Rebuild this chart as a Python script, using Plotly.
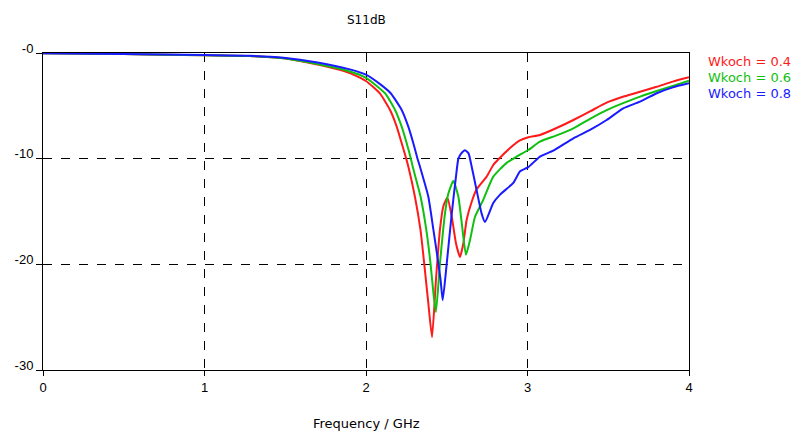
import plotly.graph_objects as go

# ---- data ----
freq_04 = [0.0, 0.5, 1.0, 1.28, 1.49, 1.70, 1.9, 2.0, 2.087, 2.149, 2.19, 2.221, 2.248, 2.262,
           2.303, 2.337, 2.361, 2.386, 2.409, 2.433, 2.458, 2.479, 2.504, 2.531, 2.557, 2.582,
           2.603, 2.623, 2.654, 2.685, 2.747, 2.788, 2.82, 2.892, 2.95, 3.005, 3.077, 3.18,
           3.284, 3.39, 3.49, 3.6, 3.697, 3.8, 3.9, 4.0]
s11_04 = [-0.02, -0.1, -0.22, -0.28, -0.5, -1.1, -1.9, -2.65, -3.85, -5.4, -6.97, -8.54, -9.95, -10.75,
          -13.6, -16.7, -20.0, -23.7, -26.9, -21.5, -16.7, -14.5, -13.7, -15.5, -18.0, -19.3,
          -18.0, -15.8, -14.1, -12.9, -11.7, -10.6, -10.06, -9.0, -8.3, -7.98, -7.76, -7.1,
          -6.34, -5.5, -4.7, -4.1, -3.66, -3.2, -2.71, -2.3]

freq_06 = [0.0, 0.5, 1.0, 1.28, 1.49, 1.70, 1.9, 2.0, 2.118, 2.18, 2.221, 2.252, 2.277, 2.289,
           2.338, 2.373, 2.40, 2.418, 2.433, 2.458, 2.489, 2.51, 2.541, 2.572, 2.593, 2.619,
           2.644, 2.675, 2.726, 2.788, 2.871, 2.933, 3.005, 3.077, 3.18, 3.284, 3.39, 3.49,
           3.6, 3.697, 3.8, 3.9, 4.0]
s11_06 = [-0.02, -0.1, -0.22, -0.28, -0.5, -1.05, -1.75, -2.35, -3.81, -5.39, -6.97, -8.54, -9.95, -10.75,
          -13.6, -16.7, -20.0, -22.8, -24.5, -19.9, -15.2, -13.3, -12.1, -13.6, -16.1, -19.1,
          -17.7, -15.5, -13.9, -11.7, -10.4, -9.8, -9.18, -8.39, -7.8, -7.13, -6.2, -5.4,
          -4.7, -4.13, -3.6, -3.12, -2.62]

freq_08 = [0.0, 0.5, 1.0, 1.28, 1.49, 1.70, 1.9, 2.0, 2.087, 2.153, 2.221, 2.262, 2.293, 2.318,
           2.334, 2.386, 2.417, 2.448, 2.462, 2.475, 2.50, 2.531, 2.557, 2.572, 2.59, 2.613,
           2.635, 2.644, 2.685, 2.716, 2.737, 2.788, 2.83, 2.912, 2.954, 3.005, 3.077, 3.16,
           3.284, 3.387, 3.49, 3.593, 3.697, 3.8, 3.9, 4.0]
s11_08 = [-0.02, -0.1, -0.2, -0.26, -0.45, -0.9, -1.55, -2.05, -2.95, -3.81, -5.39, -6.97, -8.54, -9.95,
          -10.75, -13.6, -16.7, -19.9, -21.5, -23.4, -19.9, -15.2, -11.7, -10.0, -9.5, -9.2,
          -9.5, -10.0, -13.0, -15.2, -16.0, -14.2, -13.4, -12.3, -11.2, -10.8, -9.8, -9.24,
          -8.07, -7.28, -6.34, -5.23, -4.6, -3.81, -3.25, -2.87]

series_names = ["Wkoch = 0.4", "Wkoch = 0.6", "Wkoch = 0.8"]
series_colors = ["#ff1a1a", "#10c010", "#1a1aff"]
x_ticks = [0, 1, 2, 3, 4]
y_ticks = [0, -10, -20, -30]
y_tick_labels = ["-0", "-10", "-20", "-30"]
title_text = "S11dB"
x_title = "Frequency / GHz"

fig = go.Figure()
for fx, fy, name, col in zip([freq_04, freq_06, freq_08], [s11_04, s11_06, s11_08],
                             series_names, series_colors):
    fig.add_trace(go.Scatter(x=fx, y=fy, mode="lines", name=name,
                             line=dict(color=col, width=2, shape="spline", smoothing=0.5),
                             showlegend=False))

tick_font = dict(family="Liberation Sans, Arial, sans-serif", size=13, color="black")
fig.update_layout(
    width=791, height=432,
    margin=dict(l=43, r=102, t=53, b=62, autoexpand=False),
    paper_bgcolor="white", plot_bgcolor="white",
    font=dict(family="DejaVu Sans, sans-serif", size=12, color="black"),
)
fig.update_xaxes(range=[0, 4], tickvals=x_ticks, ticktext=[str(v) for v in x_ticks],
                 showgrid=True, gridcolor="black", griddash="dash", gridwidth=1,
                 showline=True, linecolor="black", linewidth=1, mirror=True,
                 ticks="outside", ticklen=5, tickcolor="black", tickfont=tick_font,
                 zeroline=False)
fig.update_yaxes(range=[-30, 0], tickvals=y_ticks, ticktext=y_tick_labels,
                 showgrid=True, gridcolor="black", griddash="dash", gridwidth=1,
                 showline=True, linecolor="black", linewidth=1, mirror=True,
                 ticks="outside", ticklen=6, tickcolor="black", tickfont=tick_font,
                 zeroline=False, ticklabelshift=-5)

# title
fig.add_annotation(text=title_text, xref="paper", yref="paper", x=0.5, y=(370 - 20) / 317,
                   showarrow=False, font=dict(size=12), xanchor="center", yanchor="middle")
# x-axis title
fig.add_annotation(text=x_title, xref="paper", yref="paper", x=0.5, y=(370 - 423) / 317,
                   showarrow=False, font=dict(size=13), xanchor="center", yanchor="middle")
# coloured-text legend
for i, (name, col) in enumerate(zip(series_names, series_colors)):
    fig.add_annotation(text=name, xref="paper", yref="paper", x=1 + 17 / 646,
                       y=(370 - (61.5 + 16 * i)) / 317, showarrow=False,
                       font=dict(size=13, color=col), xanchor="left", yanchor="middle")

fig.write_html("out.html",
               config={"displayModeBar": False},
               post_script="document.body.style.margin='0';"
                           "document.body.style.overflow='hidden';"
                           "document.documentElement.style.overflow='hidden';")
